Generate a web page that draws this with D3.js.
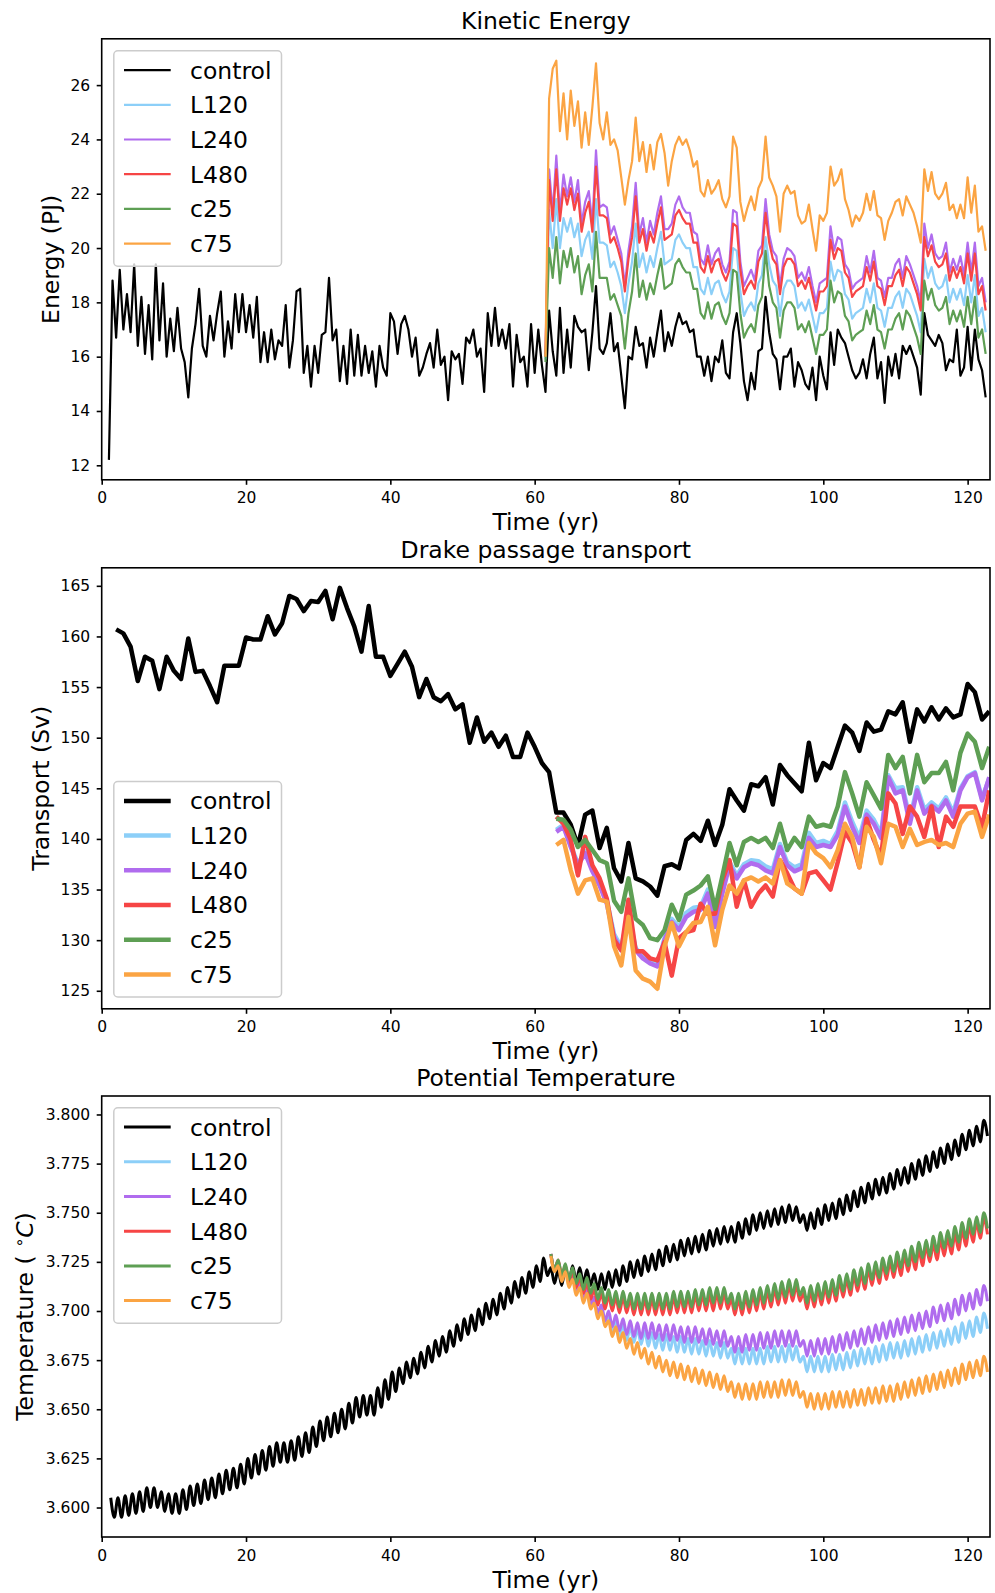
<!DOCTYPE html>
<html>
<head>
<meta charset="utf-8">
<script src="https://cdn.jsdelivr.net/npm/d3@7"></script>
<style>
body { margin: 0; background: #fff; }
svg { display: block; font-family: "DejaVu Sans", sans-serif; }
</style>
</head>
<body>
<div id="chart"></div>
<script>
var W = 995, H = 1593;
var xLeft = 101.7, xRight = 990, plotH = 441;
var xDomain = [0, 123.1];
var xTicks = [0, 20, 40, 60, 80, 100, 120];

var seriesNames = ["control", "L120", "L240", "L480", "c25", "c75"];
var seriesColors = ["#000000", "#8ccff8", "#b06cee", "#f64545", "#5e9f54", "#fba443"];

// ---- Kinetic energy (PJ), half-year samples
var keControlStart = 1, keExpStart = 61.5, keStep = 0.5;
var keControl = [
  12.2, 18.8, 16.7, 19.2, 17.0, 18.3, 16.9, 19.4, 16.4, 18.2, 16.1, 17.9, 15.9, 19.4, 16.6, 18.7, 16.0, 17.4, 16.2, 17.8,
  16.3, 15.8, 14.5, 16.3, 17.2, 18.5, 16.4, 16.0, 17.5, 16.6, 17.6, 18.4, 16.0, 17.3, 16.3, 18.3, 16.9, 18.3, 16.9, 17.9,
  16.7, 18.2, 15.8, 16.9, 15.8, 17.0, 15.9, 16.6, 16.4, 17.9, 15.6, 16.6, 18.4, 18.5, 15.4, 16.4, 14.9, 16.4, 15.4, 16.8,
  16.9, 18.9, 16.6, 17.0, 15.1, 16.4, 15.0, 17.0, 15.3, 16.8, 15.3, 16.4, 15.4, 16.2, 14.9, 16.4, 15.6, 15.3, 17.6, 17.3,
  16.1, 17.2, 17.5, 17.0, 16.0, 16.7, 15.3, 15.6, 16.1, 16.5, 15.6, 17.0, 15.7, 16.0, 14.4, 16.2, 15.9, 16.1, 15.0, 16.7,
  16.5, 17.0, 16.0, 16.3, 14.7, 17.6, 16.4, 17.8, 16.4, 17.0, 16.3, 17.2, 14.9, 16.8, 15.8, 16.0, 14.9, 17.2, 15.4, 17.0,
  15.7, 14.7, 17.7, 16.2, 15.3, 17.8, 15.4, 17.0, 15.6, 17.5, 17.1, 16.9, 17.0, 15.5, 16.9, 18.6, 16.3, 16.1, 16.5, 17.6,
  16.2, 16.5, 15.3, 14.1, 16.0, 15.9, 17.1, 16.4, 16.5, 15.6, 16.7, 16.0, 16.9, 17.7, 16.2, 16.9, 16.4, 17.1, 17.6, 17.2,
  17.3, 16.9, 17.0, 16.0, 16.0, 15.3, 16.0, 15.1, 16.0, 15.8, 16.6, 15.4, 15.2, 16.9, 17.6, 16.5, 15.1, 14.4, 15.4, 14.8,
  16.2, 16.3, 18.2, 16.9, 16.1, 15.9, 14.8, 16.0, 16.0, 16.3, 14.9, 15.8, 15.5, 15.0, 14.8, 15.6, 14.4, 16.0, 15.3, 14.8,
  16.9, 15.7, 17.0, 16.7, 16.5, 16.0, 15.5, 15.2, 15.4, 15.9, 15.2, 16.1, 16.7, 15.2, 15.8, 14.3, 16.0, 15.3, 16.1, 15.2,
  16.4, 16.1, 16.4, 16.0, 15.6, 14.6, 17.6, 16.8, 16.6, 16.4, 16.8, 16.5, 15.5, 15.9, 15.8, 17.0, 15.3, 15.6, 17.1, 15.5,
  17.0, 15.9, 15.5, 14.5
];
var keL120 = [
  15.9,
  21.4, 20.0, 21.8, 20.0, 21.1, 20.6, 21.1, 20.4, 20.9, 19.7, 20.3, 20.6, 19.6, 21.8, 20.2, 20.2, 20.1, 19.3,
  19.5, 19.1, 18.6, 17.6, 18.7, 19.5, 20.9, 19.3, 19.8, 19.1, 19.7, 19.3, 20.0, 20.6, 19.4, 19.5, 19.6, 20.3, 20.5, 20.2,
  20.0, 20.0, 19.3, 19.3, 18.5, 18.3, 18.9, 18.3, 18.7, 18.8, 18.3, 18.0, 18.4, 20.0, 19.9, 18.4, 17.5, 17.8, 18.0, 17.7,
  18.7, 19.0, 20.4, 19.4, 18.8, 18.6, 17.5, 18.5, 18.8, 18.8, 18.6, 17.8, 18.0, 17.7, 18.1, 17.5, 16.9, 17.6, 17.6, 17.8,
  19.5, 18.8, 19.2, 19.1, 18.3, 18.1, 17.4, 17.6, 17.7, 17.8, 18.5, 18.0, 18.7, 17.8, 17.7, 17.1, 17.8, 17.8, 18.2, 18.4,
  17.8, 18.5, 18.3, 17.9, 17.5, 16.9, 19.6, 18.9, 19.3, 18.7, 18.5, 18.6, 19.0, 18.0, 18.5, 18.1, 18.5, 17.9, 19.0, 18.0,
  19.0, 17.5, 17.8, 16.9
];
var keL240 = [
  16.1,
  22.9, 21.3, 23.4, 21.3, 22.7, 21.9, 22.6, 21.7, 22.5, 20.9, 21.7, 22.1, 20.9, 23.6, 21.5, 21.6, 21.5, 20.5,
  20.8, 20.3, 19.8, 18.6, 19.9, 20.8, 22.4, 20.5, 21.1, 20.2, 21.0, 20.5, 21.3, 21.9, 20.7, 20.7, 20.9, 21.6, 21.9, 21.5,
  21.3, 21.3, 20.6, 20.5, 19.6, 19.4, 20.1, 19.4, 19.8, 20.0, 19.4, 19.1, 19.5, 21.4, 21.3, 19.5, 18.6, 18.9, 19.2, 18.8,
  19.9, 20.1, 21.8, 20.5, 19.9, 19.7, 18.6, 19.6, 20.0, 19.9, 19.7, 18.9, 19.1, 18.8, 19.3, 18.6, 18.0, 18.7, 18.8, 18.9,
  20.8, 19.9, 20.4, 20.3, 19.4, 19.2, 18.5, 18.7, 18.8, 18.9, 19.7, 19.1, 19.9, 18.9, 18.8, 18.2, 18.9, 18.9, 19.4, 19.6,
  18.9, 19.7, 19.4, 19.0, 18.6, 18.0, 20.9, 20.0, 20.5, 19.8, 19.6, 19.7, 20.2, 19.1, 19.6, 19.2, 19.7, 19.0, 20.2, 19.1,
  20.2, 18.6, 18.9, 18.0
];
var keL480 = [
  16.0,
  22.5, 21.0, 22.9, 21.0, 22.2, 21.6, 22.2, 21.4, 22.0, 20.6, 21.3, 21.7, 20.6, 23.0, 21.2, 21.2, 21.1, 20.2,
  20.4, 20.0, 19.5, 18.4, 19.6, 20.4, 21.9, 20.2, 20.7, 19.9, 20.6, 20.2, 20.9, 21.5, 20.3, 20.4, 20.5, 21.2, 21.4, 21.1,
  20.9, 20.9, 20.2, 20.2, 19.3, 19.1, 19.7, 19.1, 19.5, 19.6, 19.1, 18.8, 19.2, 20.9, 20.8, 19.2, 18.3, 18.6, 18.8, 18.5,
  19.5, 19.8, 21.3, 20.2, 19.6, 19.4, 18.3, 19.3, 19.6, 19.6, 19.4, 18.6, 18.8, 18.5, 18.9, 18.3, 17.7, 18.4, 18.4, 18.6,
  20.3, 19.6, 20.0, 19.9, 19.1, 18.9, 18.2, 18.4, 18.5, 18.6, 19.3, 18.8, 19.5, 18.6, 18.5, 17.9, 18.6, 18.6, 19.0, 19.2,
  18.6, 19.3, 19.1, 18.7, 18.3, 17.7, 20.4, 19.7, 20.1, 19.5, 19.3, 19.4, 19.8, 18.8, 19.3, 18.9, 19.3, 18.7, 19.8, 18.8,
  19.8, 18.3, 18.6, 17.7
];
var keC25 = [
  15.8,
  20.0, 18.9, 20.4, 18.7, 19.9, 19.3, 20.0, 19.1, 19.7, 18.3, 19.0, 19.4, 18.4, 20.6, 18.9, 18.9, 18.9, 18.1,
  18.3, 17.9, 17.5, 16.3, 17.6, 18.4, 19.8, 18.2, 18.8, 18.1, 18.7, 18.3, 19.0, 19.6, 18.5, 18.6, 18.7, 19.4, 19.6, 19.3,
  19.1, 19.1, 18.5, 18.5, 17.6, 17.4, 18.0, 17.4, 17.9, 18.0, 17.5, 17.2, 17.6, 19.2, 19.1, 17.6, 16.7, 17.0, 17.2, 16.9,
  17.9, 18.2, 19.9, 18.6, 18.0, 17.8, 16.7, 17.7, 18.0, 18.0, 17.8, 17.0, 17.2, 16.9, 17.3, 16.7, 16.1, 16.8, 16.8, 17.0,
  18.8, 18.0, 18.4, 18.3, 17.5, 17.3, 16.6, 16.8, 16.9, 17.0, 17.7, 17.2, 17.9, 17.0, 16.9, 16.3, 17.0, 17.0, 17.4, 17.6,
  17.0, 17.7, 17.5, 17.1, 16.7, 16.1, 18.8, 18.1, 18.5, 17.9, 17.7, 17.8, 18.2, 17.2, 17.7, 17.3, 17.7, 17.1, 18.2, 17.2,
  18.2, 16.7, 17.0, 16.1
];
var keC75 = [
  16.0,
  25.5, 26.6, 26.9, 24.3, 25.7, 24.0, 25.8, 24.5, 25.4, 23.7, 25.0, 23.8, 25.2, 26.8, 24.6, 24.0, 25.0, 23.8,
  24.0, 23.6, 22.6, 21.6, 22.5, 23.2, 24.8, 23.2, 23.9, 22.8, 23.8, 22.9, 23.9, 24.2, 23.5, 22.3, 23.2, 23.8, 24.1, 23.8,
  24.0, 23.6, 23.0, 23.2, 22.1, 21.9, 22.5, 22.0, 22.2, 22.5, 21.8, 21.5, 21.9, 24.1, 23.7, 21.7, 21.0, 21.5, 21.9, 21.4,
  22.2, 22.5, 24.1, 22.6, 22.3, 21.9, 20.6, 22.0, 22.3, 22.0, 22.1, 21.2, 20.9, 21.0, 21.6, 20.7, 19.9, 21.2, 21.0, 21.3,
  23.0, 22.3, 22.5, 22.9, 21.8, 21.4, 20.8, 21.2, 21.0, 21.3, 22.0, 21.4, 22.1, 21.2, 21.1, 20.3, 21.0, 21.3, 21.7, 21.8,
  21.2, 21.9, 21.6, 21.3, 20.8, 20.2, 22.9, 22.1, 22.8, 22.0, 21.8, 22.0, 22.4, 21.4, 21.6, 21.1, 21.6, 21.1, 22.6, 21.3,
  22.3, 20.6, 20.8, 19.9
];

// ---- Drake passage transport (Sv), yearly
var dpControlStart = 2, dpExpStart = 63, dpStep = 1;
var dpControl = [
  160.7, 160.3, 159.0, 155.6, 158.0, 157.6, 154.8, 158.0, 156.6, 155.8,
  159.8, 156.5, 156.6, 155.1, 153.5, 157.1, 157.1, 157.1, 159.9, 159.7,
  159.7, 162.0, 160.2, 161.3, 164.0, 163.7, 162.5, 163.5, 163.4, 164.5,
  161.7, 164.8, 162.8, 161.0, 158.5, 163.0, 158.0, 158.0, 156.1, 157.3,
  158.5, 157.0, 154.0, 155.8, 154.0, 153.6, 154.3, 152.8, 153.3, 149.5,
  152.0, 149.6, 150.5, 149.1, 150.2, 148.1, 148.1, 150.5, 149.1, 147.5,
  146.6, 142.6, 142.6, 141.4, 139.3, 142.4, 142.8, 139.1, 141.1, 137.1,
  135.8, 139.6, 136.1, 135.8, 135.3, 134.4, 137.3, 137.5, 137.1, 139.9,
  140.5, 139.8, 141.8, 139.4, 141.4, 144.9, 143.8, 142.8, 145.4, 145.2,
  146.1, 143.4, 147.3, 146.3, 145.5, 144.7, 149.5, 145.8, 147.5, 147.0,
  149.1, 151.2, 150.5, 148.7, 151.5, 150.6, 150.8, 152.6, 152.3, 153.5,
  149.6, 152.8, 151.6, 153.0, 151.8, 152.9, 152.0, 152.3, 155.3, 154.5,
  151.8, 152.6
];
var dpL120 = [
  140.9, 141.4, 139.4, 137.5, 138.8, 137.0, 135.6, 133.9, 130.6, 129.3,
  132.6, 129.2, 128.4, 127.9, 127.5, 130.2, 132.1, 131.3, 132.7, 133.2,
  133.3, 135.0, 131.6, 134.9, 137.7, 136.4, 137.5, 137.9, 137.8, 137.3,
  137.0, 139.5, 137.7, 137.2, 137.5, 140.6, 139.6, 139.8, 139.5, 140.8,
  143.6, 141.7, 140.1, 142.8, 141.9, 140.5, 146.3, 145.0, 145.1, 142.0,
  145.1, 142.9, 143.6, 143.0, 144.1, 142.6, 145.0, 146.2, 146.6, 144.0,
  146.0
];
var dpL240 = [
  140.7, 141.2, 139.2, 137.4, 138.6, 136.8, 135.4, 133.6, 130.3, 129.0,
  132.3, 129.0, 128.2, 127.7, 127.4, 130.0, 131.8, 131.0, 132.3, 132.8,
  133.0, 134.6, 131.3, 134.6, 137.4, 136.1, 137.2, 137.6, 137.4, 136.9,
  136.6, 139.2, 137.4, 136.8, 137.1, 140.1, 139.2, 139.4, 139.2, 140.4,
  143.2, 141.2, 139.6, 142.4, 141.5, 140.1, 146.1, 144.5, 144.8, 141.5,
  144.8, 142.5, 143.3, 142.7, 143.8, 142.2, 144.8, 146.1, 146.5, 143.8,
  146.1
];
var dpL480 = [
  142.2, 141.5, 139.9, 136.4, 140.2, 137.4, 136.1, 134.1, 130.0, 129.0,
  134.0, 128.9, 128.9, 128.2, 128.0, 129.8, 126.5, 130.2, 130.8, 131.0,
  133.6, 132.6, 132.6, 135.9, 137.9, 133.3, 135.9, 133.3, 134.6, 135.4,
  134.3, 137.9, 136.6, 135.1, 134.6, 136.6, 136.8, 135.9, 135.0, 137.7,
  140.7, 139.6, 137.2, 142.0, 139.9, 138.2, 144.5, 143.5, 140.5, 143.2,
  142.2, 140.2, 143.2, 139.2, 142.2, 141.2, 143.2, 143.2, 143.2, 141.2,
  144.8
];
var dpC25 = [
  142.0, 141.9, 140.9, 139.2, 139.9, 138.9, 137.9, 137.6, 133.9, 132.8,
  136.1, 132.1, 131.5, 130.2, 130.0, 131.0, 133.5, 132.0, 134.5, 134.9,
  135.4, 136.3, 133.1, 136.3, 139.6, 137.4, 139.7, 140.1, 139.7, 140.1,
  139.1, 141.5, 138.9, 140.1, 139.2, 142.2, 141.2, 141.4, 141.2, 143.2,
  146.6, 144.5, 142.2, 145.6, 144.3, 143.0, 148.3, 147.0, 148.1, 144.5,
  148.3, 145.6, 146.5, 146.5, 147.6, 144.8, 148.5, 150.4, 149.6, 147.0,
  149.1
];
var dpC75 = [
  139.4, 139.9, 136.9, 134.6, 135.9, 136.1, 134.0, 133.8, 129.4, 127.5,
  132.3, 127.0, 126.2, 125.9, 125.2, 129.4, 131.7, 129.4, 130.8, 131.7,
  131.8, 133.3, 129.5, 133.0, 135.4, 134.6, 135.9, 136.2, 135.8, 136.2,
  135.6, 137.9, 135.6, 135.1, 134.6, 139.6, 138.6, 138.1, 137.2, 138.9,
  141.5, 140.2, 137.2, 141.2, 140.2, 137.6, 141.5, 141.2, 139.2, 141.0,
  139.4, 139.7, 139.9, 139.4, 139.6, 139.2, 141.5, 142.5, 142.7, 140.2,
  142.4
];

// ---- Potential temperature (deg C), half-year samples (seasonal peak / trough)
var ptControlStart = 1.25, ptExpStart = 62.25, ptStep = 0.5;
var ptControl = [
  3.605, 3.595, 3.605, 3.595, 3.606, 3.596, 3.607, 3.597, 3.608, 3.598, 3.610, 3.600, 3.610, 3.600, 3.608, 3.598, 3.607, 3.597, 3.607, 3.597,
  3.609, 3.599, 3.611, 3.601, 3.612, 3.602, 3.614, 3.604, 3.615, 3.605, 3.617, 3.607, 3.619, 3.609, 3.620, 3.610, 3.622, 3.612, 3.625, 3.615,
  3.627, 3.617, 3.629, 3.619, 3.631, 3.621, 3.633, 3.623, 3.633, 3.623, 3.634, 3.624, 3.636, 3.626, 3.638, 3.628, 3.641, 3.631, 3.644, 3.634,
  3.646, 3.636, 3.648, 3.638, 3.650, 3.640, 3.653, 3.643, 3.656, 3.646, 3.657, 3.647, 3.657, 3.647, 3.661, 3.651, 3.665, 3.655, 3.669, 3.659,
  3.671, 3.663, 3.674, 3.666, 3.676, 3.668, 3.679, 3.671, 3.682, 3.674, 3.685, 3.677, 3.687, 3.679, 3.690, 3.682, 3.693, 3.685, 3.696, 3.688,
  3.698, 3.690, 3.701, 3.693, 3.704, 3.696, 3.706, 3.698, 3.709, 3.701, 3.712, 3.704, 3.715, 3.707, 3.717, 3.709, 3.720, 3.712, 3.723, 3.715,
  3.727, 3.718, 3.722, 3.714, 3.721, 3.713, 3.722, 3.714, 3.723, 3.715, 3.722, 3.714, 3.721, 3.713, 3.719, 3.711, 3.719, 3.711, 3.720, 3.712,
  3.721, 3.713, 3.723, 3.715, 3.725, 3.717, 3.726, 3.718, 3.728, 3.720, 3.729, 3.721, 3.731, 3.723, 3.733, 3.725, 3.734, 3.726, 3.736, 3.728,
  3.737, 3.729, 3.738, 3.730, 3.739, 3.731, 3.741, 3.733, 3.742, 3.734, 3.743, 3.735, 3.743, 3.735, 3.745, 3.737, 3.747, 3.739, 3.749, 3.741,
  3.750, 3.742, 3.751, 3.743, 3.752, 3.744, 3.753, 3.745, 3.754, 3.746, 3.753, 3.745, 3.749, 3.741, 3.750, 3.742, 3.752, 3.744, 3.754, 3.746,
  3.755, 3.747, 3.757, 3.749, 3.759, 3.751, 3.761, 3.753, 3.763, 3.755, 3.765, 3.757, 3.767, 3.759, 3.768, 3.760, 3.770, 3.762, 3.772, 3.764,
  3.773, 3.765, 3.775, 3.767, 3.777, 3.769, 3.779, 3.771, 3.781, 3.773, 3.783, 3.775, 3.785, 3.777, 3.787, 3.779, 3.790, 3.782, 3.792, 3.784,
  3.794, 3.786, 3.797, 3.789
];
var ptL120 = [
  3.729, 3.721, 3.725, 3.717, 3.722, 3.714, 3.718, 3.710, 3.714, 3.706, 3.710, 3.702, 3.706, 3.698, 3.702, 3.694, 3.698, 3.690, 3.695, 3.687,
  3.693, 3.685, 3.692, 3.684, 3.691, 3.683, 3.690, 3.682, 3.689, 3.681, 3.688, 3.680, 3.688, 3.680, 3.687, 3.679, 3.687, 3.679, 3.686, 3.678,
  3.686, 3.678, 3.685, 3.677, 3.685, 3.677, 3.684, 3.676, 3.684, 3.676, 3.681, 3.673, 3.681, 3.673, 3.681, 3.673, 3.681, 3.673, 3.681, 3.673,
  3.682, 3.674, 3.682, 3.674, 3.682, 3.674, 3.683, 3.675, 3.682, 3.674, 3.677, 3.669, 3.677, 3.669, 3.677, 3.669, 3.677, 3.669, 3.678, 3.670,
  3.678, 3.670, 3.679, 3.671, 3.680, 3.672, 3.681, 3.673, 3.681, 3.673, 3.682, 3.674, 3.683, 3.675, 3.684, 3.676, 3.684, 3.676, 3.685, 3.677,
  3.686, 3.678, 3.687, 3.679, 3.688, 3.680, 3.689, 3.681, 3.690, 3.682, 3.691, 3.683, 3.692, 3.684, 3.694, 3.686, 3.695, 3.687, 3.697, 3.689,
  3.699, 3.691
];
var ptL240 = [
  3.729, 3.721, 3.725, 3.717, 3.722, 3.714, 3.719, 3.711, 3.715, 3.707, 3.711, 3.703, 3.707, 3.699, 3.703, 3.695, 3.700, 3.692, 3.698, 3.690,
  3.696, 3.688, 3.695, 3.687, 3.694, 3.686, 3.694, 3.686, 3.694, 3.686, 3.693, 3.685, 3.693, 3.685, 3.693, 3.685, 3.692, 3.684, 3.692, 3.684,
  3.692, 3.684, 3.691, 3.683, 3.691, 3.683, 3.690, 3.682, 3.690, 3.682, 3.687, 3.679, 3.687, 3.679, 3.688, 3.680, 3.688, 3.680, 3.689, 3.681,
  3.689, 3.681, 3.690, 3.682, 3.690, 3.682, 3.690, 3.682, 3.690, 3.682, 3.685, 3.677, 3.685, 3.677, 3.686, 3.678, 3.686, 3.678, 3.687, 3.679,
  3.688, 3.680, 3.689, 3.681, 3.690, 3.682, 3.691, 3.683, 3.692, 3.684, 3.693, 3.685, 3.694, 3.686, 3.695, 3.687, 3.696, 3.688, 3.697, 3.689,
  3.698, 3.690, 3.699, 3.691, 3.700, 3.692, 3.702, 3.694, 3.703, 3.695, 3.704, 3.696, 3.706, 3.698, 3.708, 3.700, 3.709, 3.701, 3.711, 3.703,
  3.713, 3.705
];
var ptL480 = [
  3.729, 3.721, 3.726, 3.718, 3.723, 3.715, 3.720, 3.712, 3.717, 3.709, 3.714, 3.706, 3.711, 3.703, 3.709, 3.701, 3.708, 3.700, 3.707, 3.699,
  3.707, 3.699, 3.706, 3.698, 3.706, 3.698, 3.706, 3.698, 3.706, 3.698, 3.706, 3.698, 3.706, 3.698, 3.707, 3.699, 3.707, 3.699, 3.707, 3.699,
  3.708, 3.700, 3.708, 3.700, 3.708, 3.700, 3.709, 3.701, 3.709, 3.701, 3.706, 3.698, 3.706, 3.698, 3.707, 3.699, 3.708, 3.700, 3.709, 3.701,
  3.710, 3.702, 3.711, 3.703, 3.712, 3.704, 3.713, 3.705, 3.713, 3.705, 3.709, 3.701, 3.710, 3.702, 3.711, 3.703, 3.712, 3.704, 3.713, 3.705,
  3.715, 3.707, 3.716, 3.708, 3.718, 3.710, 3.719, 3.711, 3.721, 3.713, 3.722, 3.714, 3.724, 3.716, 3.725, 3.717, 3.726, 3.718, 3.728, 3.720,
  3.729, 3.721, 3.731, 3.723, 3.733, 3.725, 3.734, 3.726, 3.736, 3.728, 3.737, 3.729, 3.739, 3.731, 3.741, 3.733, 3.743, 3.735, 3.745, 3.737,
  3.747, 3.739
];
var ptC25 = [
  3.729, 3.721, 3.726, 3.718, 3.724, 3.716, 3.722, 3.714, 3.719, 3.711, 3.717, 3.709, 3.714, 3.706, 3.712, 3.704, 3.711, 3.703, 3.710, 3.702,
  3.710, 3.702, 3.709, 3.701, 3.709, 3.701, 3.709, 3.701, 3.709, 3.701, 3.709, 3.701, 3.709, 3.701, 3.710, 3.702, 3.710, 3.702, 3.710, 3.702,
  3.711, 3.703, 3.711, 3.703, 3.712, 3.704, 3.712, 3.704, 3.712, 3.704, 3.709, 3.701, 3.709, 3.701, 3.710, 3.702, 3.711, 3.703, 3.712, 3.704,
  3.713, 3.705, 3.714, 3.706, 3.715, 3.707, 3.716, 3.708, 3.716, 3.708, 3.712, 3.704, 3.713, 3.705, 3.714, 3.706, 3.715, 3.707, 3.716, 3.708,
  3.718, 3.710, 3.719, 3.711, 3.721, 3.713, 3.722, 3.714, 3.724, 3.716, 3.725, 3.717, 3.727, 3.719, 3.728, 3.720, 3.730, 3.722, 3.731, 3.723,
  3.733, 3.725, 3.735, 3.727, 3.736, 3.728, 3.738, 3.730, 3.740, 3.732, 3.741, 3.733, 3.743, 3.735, 3.745, 3.737, 3.747, 3.739, 3.748, 3.740,
  3.750, 3.742
];
var ptC75 = [
  3.728, 3.720, 3.723, 3.715, 3.720, 3.712, 3.716, 3.708, 3.712, 3.704, 3.709, 3.701, 3.704, 3.696, 3.700, 3.692, 3.695, 3.687, 3.692, 3.684,
  3.689, 3.681, 3.686, 3.678, 3.684, 3.676, 3.681, 3.673, 3.679, 3.671, 3.677, 3.669, 3.675, 3.667, 3.674, 3.666, 3.673, 3.665, 3.672, 3.664,
  3.671, 3.663, 3.670, 3.662, 3.669, 3.661, 3.668, 3.660, 3.667, 3.659, 3.664, 3.656, 3.663, 3.655, 3.663, 3.655, 3.663, 3.655, 3.664, 3.656,
  3.664, 3.656, 3.664, 3.656, 3.665, 3.657, 3.665, 3.657, 3.664, 3.656, 3.659, 3.651, 3.658, 3.650, 3.658, 3.650, 3.658, 3.650, 3.659, 3.651,
  3.659, 3.651, 3.659, 3.651, 3.660, 3.652, 3.660, 3.652, 3.661, 3.653, 3.661, 3.653, 3.662, 3.654, 3.662, 3.654, 3.663, 3.655, 3.664, 3.656,
  3.665, 3.657, 3.666, 3.658, 3.667, 3.659, 3.668, 3.660, 3.669, 3.661, 3.670, 3.662, 3.671, 3.663, 3.673, 3.665, 3.674, 3.666, 3.675, 3.667,
  3.677, 3.669
];

var keTicks = [12, 14, 16, 18, 20, 22, 24, 26];
var dpTicks = [125, 130, 135, 140, 145, 150, 155, 160, 165];
var ptTicks = [3.600, 3.625, 3.650, 3.675, 3.700, 3.725, 3.750, 3.775, 3.800];

var panels = [
  { title: "Kinetic Energy", top: 38.8, yDomain: [11.466, 27.705], yTicks: keTicks, fmt: d3.format("d"),
    ylabel: "Energy (PJ)", ylabelX: 59, lw: 2.2, legendTop: 50.8, curve: d3.curveLinear,
    lines: [[keControlStart, keStep, keControl], [keExpStart, keStep, keL120], [keExpStart, keStep, keL240],
            [keExpStart, keStep, keL480], [keExpStart, keStep, keC25], [keExpStart, keStep, keC75]] },
  { title: "Drake passage transport", top: 567.8, yDomain: [123.22, 166.78], yTicks: dpTicks, fmt: d3.format("d"),
    ylabel: "Transport (Sv)", ylabelX: 48.5, lw: 4.5, legendTop: 781.6, curve: d3.curveLinear,
    lines: [[dpControlStart, dpStep, dpControl], [dpExpStart, dpStep, dpL120], [dpExpStart, dpStep, dpL240],
            [dpExpStart, dpStep, dpL480], [dpExpStart, dpStep, dpC25], [dpExpStart, dpStep, dpC75]] },
  { title: "Potential Temperature", top: 1096, yDomain: [3.585, 3.8094], yTicks: ptTicks, fmt: d3.format(".3f"),
    ylabel: null, ylabelX: 33.3, lw: 3, legendTop: 1107.8, curve: d3.curveMonotoneX,
    lines: [[ptControlStart, ptStep, ptControl], [ptExpStart, ptStep, ptL120], [ptExpStart, ptStep, ptL240],
            [ptExpStart, ptStep, ptL480], [ptExpStart, ptStep, ptC25], [ptExpStart, ptStep, ptC75]] }
];

var x = d3.scaleLinear().domain(xDomain).range([xLeft, xRight]);

var svg = d3.select('#chart').append('svg')
    .attr('width', W)
    .attr('height', H);

svg.append('rect').attr('width', W).attr('height', H).attr('fill', '#fff');

function toPoints(start, step, values) {
    return values.map(function(v, i) { return [start + i * step, v]; });
}

panels.forEach(function(p, pi) {
    var bottom = p.top + plotH;
    var y = d3.scaleLinear().domain(p.yDomain).range([bottom, p.top]);
    var g = svg.append('g');

    g.append('clipPath').attr('id', 'clip' + pi)
      .append('rect')
        .attr('x', xLeft).attr('y', p.top)
        .attr('width', xRight - xLeft).attr('height', plotH);

    var line = d3.line()
        .x(function(d) { return x(d[0]); })
        .y(function(d) { return y(d[1]); })
        .curve(p.curve);

    var lines = g.append('g').attr('clip-path', 'url(#clip' + pi + ')');
    p.lines.forEach(function(s, i) {
        lines.append('path')
            .datum(toPoints(s[0], s[1], s[2]))
            .attr('fill', 'none')
            .attr('stroke', seriesColors[i])
            .attr('stroke-width', p.lw)
            .attr('stroke-linejoin', 'round')
            .attr('d', line);
    });

    // axes
    var ax = g.append('g')
        .attr('transform', 'translate(0,' + bottom + ')')
        .call(d3.axisBottom(x).tickValues(xTicks).tickSize(5).tickPadding(7.5).tickFormat(d3.format('d')));
    var ay = g.append('g')
        .attr('transform', 'translate(' + xLeft + ',0)')
        .call(d3.axisLeft(y).tickValues(p.yTicks).tickSize(5).tickPadding(6.5).tickFormat(p.fmt));
    [ax, ay].forEach(function(a) {
        a.attr('font-size', 15.5).attr('font-family', '"DejaVu Sans", sans-serif');
        a.select('.domain').remove();
        a.selectAll('.tick line').attr('stroke', '#000').attr('stroke-width', 1.6);
        a.selectAll('.tick text').attr('fill', '#000');
    });

    // frame
    g.append('rect')
        .attr('x', xLeft).attr('y', p.top)
        .attr('width', xRight - xLeft).attr('height', plotH)
        .attr('fill', 'none').attr('stroke', '#000').attr('stroke-width', 1.6);

    // title and labels
    g.append('text')
        .attr('x', (xLeft + xRight) / 2).attr('y', p.top - 10)
        .attr('text-anchor', 'middle').attr('font-size', 23.5)
        .text(p.title);
    g.append('text')
        .attr('x', (xLeft + xRight) / 2).attr('y', bottom + 50.5)
        .attr('text-anchor', 'middle').attr('font-size', 23.5)
        .text('Time (yr)');

    var yl = g.append('text')
        .attr('transform', 'translate(' + p.ylabelX + ',' + (p.top + plotH / 2) + ') rotate(-90)')
        .attr('text-anchor', 'middle').attr('font-size', 23.5);
    if (p.ylabel) {
        yl.text(p.ylabel);
    } else {
        yl.append('tspan').text('Temperature ( ');
        yl.append('tspan').attr('font-size', 16).attr('dy', -8).text('\u2218');
        yl.append('tspan').attr('dy', 8).attr('font-style', 'italic').text('C');
        yl.append('tspan').text(')');
    }

    // legend
    var lg = g.append('g').attr('transform', 'translate(113.8,' + p.legendTop + ')');
    lg.append('rect')
        .attr('width', 167.7).attr('height', 215.4).attr('rx', 4)
        .attr('fill', '#fff').attr('fill-opacity', 0.8)
        .attr('stroke', '#cccccc').attr('stroke-width', 1.5);
    seriesNames.forEach(function(n, i) {
        var cy = 19.3 + i * 34.7;
        lg.append('line')
            .attr('x1', 10.2).attr('x2', 56.9).attr('y1', cy).attr('y2', cy)
            .attr('stroke', seriesColors[i]).attr('stroke-width', p.lw);
        lg.append('text')
            .attr('x', 76.2).attr('y', cy + 8.5)
            .attr('font-size', 23.5)
            .text(n);
    });
});
</script>
</body>
</html>
